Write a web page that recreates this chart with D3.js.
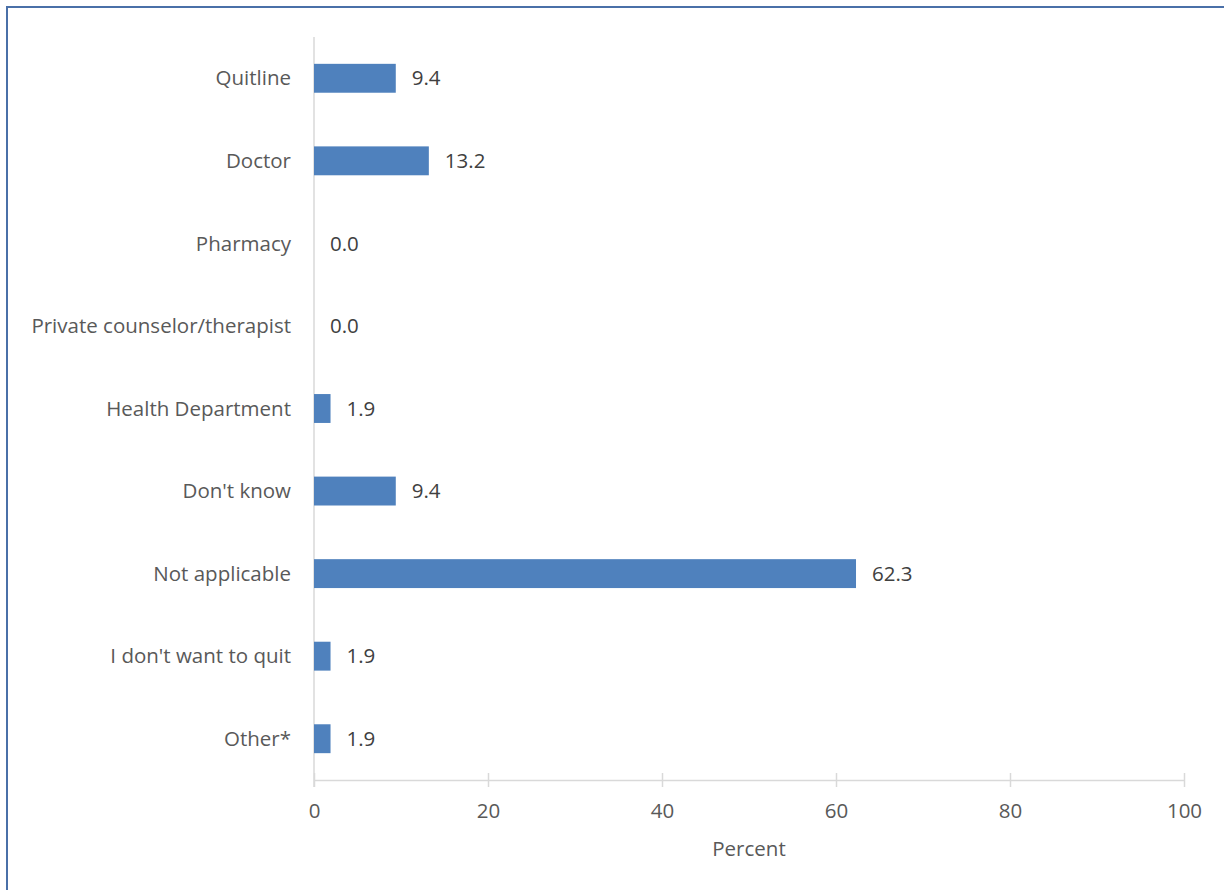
<!DOCTYPE html>
<html><head><meta charset="utf-8">
<script src="https://cdn.jsdelivr.net/npm/d3@7"></script>
<style>body{margin:0;background:#fff;}svg{display:block;}text{font-family:"Open Sans",sans-serif;}</style>
</head><body>
<script>
const categories = ["Quitline","Doctor","Pharmacy","Private counselor/therapist","Health Department","Don't know","Not applicable","I don't want to quit","Other*"];
const values = [9.4,13.2,0.0,0.0,1.9,9.4,62.3,1.9,1.9];
const xTicks = [0,20,40,60,80,100];
const xTitle = "Percent";

const W=1224,H=890,FS=20.5;
const svg=d3.select("body").append("svg").attr("width",W).attr("height",H);
svg.append("rect").attr("x",7).attr("y",7).attr("width",1240).attr("height",900).attr("fill","none").attr("stroke","#4a70a8").attr("stroke-width",2);

const x=d3.scaleLinear().domain([0,100]).range([314,1184]);
const y=d3.scaleBand().domain(categories).range([37,780]).paddingInner(0.65).paddingOuter(0.325);

const g=svg.append("g");
g.append("line").attr("x1",x(0)).attr("x2",x(0)).attr("y1",37).attr("y2",787).attr("stroke","#d9d9d9").attr("stroke-width",1.5);
const xa=g.append("g").attr("transform","translate(0,780)").call(d3.axisBottom(x).tickValues(xTicks).tickSize(0).tickPadding(23));
xa.select(".domain").attr("stroke","#d9d9d9").attr("stroke-width",1.5);
xa.selectAll(".tick text").attr("font-size",FS).attr("fill","#595959").attr("font-family","Open Sans");
xa.selectAll(".tick").append("line").attr("y1",-7).attr("y2",7).attr("stroke","#d9d9d9").attr("stroke-width",1.5);

g.selectAll(".bar").data(values).join("rect").attr("class","bar")
 .attr("x",x(0)).attr("y",(d,i)=>y(categories[i])).attr("width",d=>x(d)-x(0)).attr("height",y.bandwidth()).attr("fill","#4f81bd");

g.selectAll(".lbl").data(values).join("text").attr("class","lbl")
 .attr("x",d=>x(d)+16).attr("y",(d,i)=>y(categories[i])+y.bandwidth()/2).attr("dy","0.35em")
 .attr("font-size",FS).attr("fill","#404040").text(d=>d.toFixed(1));

g.selectAll(".cat").data(categories).join("text").attr("class","cat")
 .attr("x",291).attr("y",d=>y(d)+y.bandwidth()/2).attr("dy","0.35em").attr("text-anchor","end")
 .attr("font-size",FS).attr("fill","#595959").text(d=>d);

svg.append("text").attr("x",749).attr("y",856).attr("text-anchor","middle").attr("font-size",FS).attr("fill","#595959").text(xTitle);
</script>
</body></html>
